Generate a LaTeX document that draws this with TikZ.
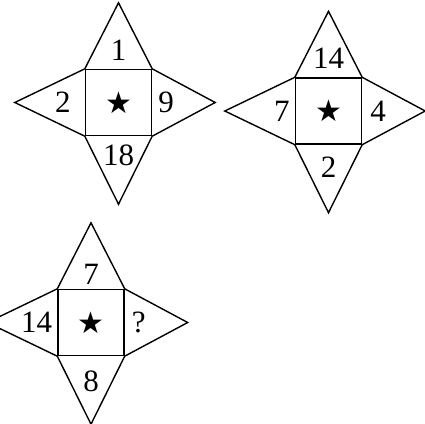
\documentclass[tikz,border=0pt]{standalone}
\usepackage{fontspec}
\setmainfont{Liberation Serif}
\newfontfamily\symfont{DejaVu Sans}
\usetikzlibrary{positioning}
\tikzset{
 netsq/.style={
 rectangle,
 draw=black,
 line width=1.4pt,
 minimum size=66pt,
 inner sep=0pt,
 font=\symfont\fontsize{30}{30}\selectfont
 },
 netline/.style={line width=1.4pt, draw=black, line join=miter},
 numlabel/.style={inner sep=0pt, font=\fontsize{31}{31}\selectfont}
}

\begin{document}
\begin{tikzpicture}[x=1pt,y=1pt]
 \useasboundingbox (0,-423) rectangle (425,0);
 % the three squares
 \node[netsq] (sqA) at (118.5,-102.5) {★};
 \node[netsq] (sqB) at (328.5,-111) {★};
 \node[netsq] (sqC) at (91,-322.5) {★};

 % triangles on the four sides
 \foreach \s in {A,B,C} {
 \coordinate[above=66pt of sq\s.north] (top\s);
 \coordinate[below=68pt of sq\s.south] (bot\s);
 \coordinate[left=70pt of sq\s.west] (lft\s);
 \coordinate[right=63pt of sq\s.east] (rgt\s);
 \draw[netline] (sq\s.north west) -- (top\s) -- (sq\s.north east);
 \draw[netline] (sq\s.south west) -- (bot\s) -- (sq\s.south east);
 \draw[netline] (sq\s.north west) -- (lft\s) -- (sq\s.south west);
 \draw[netline] (sq\s.north east) -- (rgt\s) -- (sq\s.south east);
 }

 % numbers
 \node[numlabel, above=8pt of sqA.north] (nA1) {1};
 \node[numlabel, left=14pt of sqA.west] (nA2) {2};
 \node[numlabel, right=6pt of sqA.east] (nA3) {9};
 \node[numlabel, below=8pt of sqA.south] (nA4) {18};

 \node[numlabel, above=9pt of sqB.north] (nB1) {14};
 \node[numlabel, left=5pt of sqB.west] (nB2) {7};
 \node[numlabel, right=8pt of sqB.east] (nB3) {4};
 \node[numlabel, below=12pt of sqB.south] (nB4) {2};

 \node[numlabel, above=4pt of sqC.north] (nC1) {7};
 \node[numlabel, left=5pt of sqC.west] (nC2) {14};
 \node[numlabel, right=7pt of sqC.east] (nC3) {?};
 \node[numlabel, below=14pt of sqC.south] (nC4) {8};
\end{tikzpicture}
\end{document}
